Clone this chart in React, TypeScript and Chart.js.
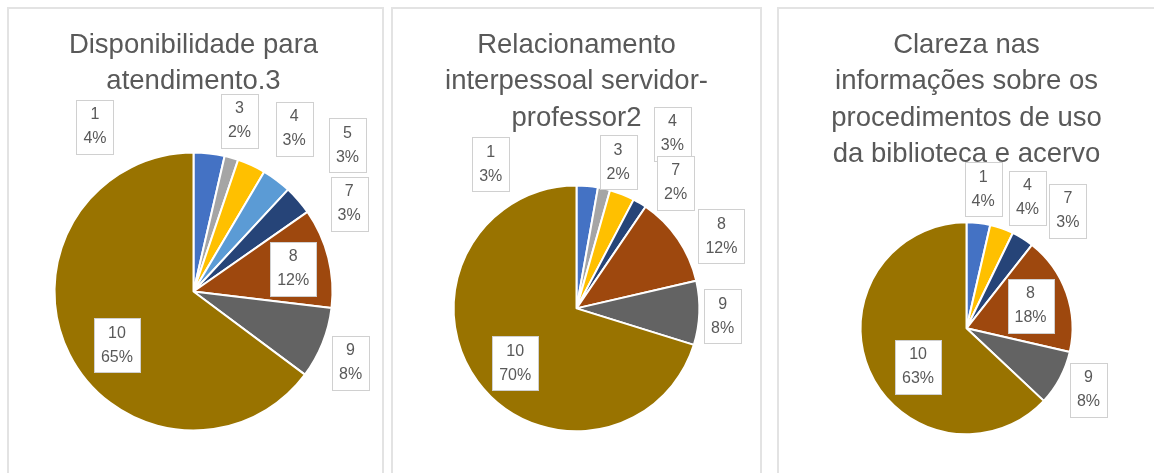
import React, { useEffect, useRef } from "react";
import { Chart, registerables } from "chart.js";

Chart.register(...registerables);

// ---------- data ----------
const TITLE_1 = ["Disponibilidade para", "atendimento.3"];
const CATEGORIES_1 = ["1", "3", "4", "5", "7", "8", "9", "10"];
const VALUES_1 = [3.6, 1.6, 3.3, 3.4, 3.4, 11.6, 8.3, 64.8];

const TITLE_2 = ["Relacionamento", "interpessoal servidor-", "professor2"];
const CATEGORIES_2 = ["1", "3", "4", "7", "8", "9", "10"];
const VALUES_2 = [2.8, 1.6, 3.3, 1.8, 11.9, 8.4, 70.2];

const TITLE_3 = [
  "Clareza nas",
  "informações sobre os",
  "procedimentos de uso",
  "da biblioteca e acervo",
];
const CATEGORIES_3 = ["1", "4", "7", "8", "9", "10"];
const VALUES_3 = [3.6, 3.6, 3.4, 18.0, 8.4, 63.0];

// ---------- styles ----------
const CATEGORY_COLORS: Record<string, string> = {
  "1": "#4472C4",
  "2": "#ED7D31",
  "3": "#A5A5A5",
  "4": "#FFC000",
  "5": "#5B9BD5",
  "6": "#70AD47",
  "7": "#264478",
  "8": "#9E480E",
  "9": "#636363",
  "10": "#997300",
};

// label box centres relative to the pie centre, in units of the radius
const LABEL_POS_1 = [
  [-0.709, -1.183],
  [0.331, -1.23],
  [0.724, -1.17],
  [1.108, -1.053],
  [1.12, -0.633],
  [0.717, -0.165],
  [1.13, 0.515],
  [-0.551, 0.386],
];
const LABEL_POS_2 = [
  [-0.698, -1.171],
  [0.338, -1.189],
  [0.78, -1.419],
  [0.807, -1.02],
  [1.179, -0.586],
  [1.189, 0.063],
  [-0.499, 0.447],
];
const LABEL_POS_3 = [
  [0.157, -1.312],
  [0.575, -1.231],
  [0.956, -1.108],
  [0.604, -0.215],
  [1.151, 0.579],
  [-0.457, 0.362],
];

const FONT = "'Liberation Sans', Arial, sans-serif";
const TEXT_COLOR = "#595959";

const boxLabels = {
  id: "boxLabels",
  afterDatasetsDraw(chart: any, _args: any, opts: any) {
    const ctx = chart.ctx as CanvasRenderingContext2D;
    const meta = chart.getDatasetMeta(0);
    const data = chart.data.datasets[0].data as number[];
    const total = data.reduce((a, b) => a + b, 0);
    const labels = chart.data.labels as string[];
    const positions = opts.positions as number[][];
    ctx.save();
    ctx.font = `16px ${FONT}`;
    ctx.textAlign = "center";
    ctx.textBaseline = "middle";
    meta.data.forEach((arc: any, i: number) => {
      const { x, y, outerRadius } = arc.getProps(["x", "y", "outerRadius"], true);
      const p = positions[i];
      if (!p) return;
      const cx = x + p[0] * outerRadius;
      const cy = y + p[1] * outerRadius;
      const l1 = labels[i];
      const l2 = Math.round((data[i] / total) * 100) + "%";
      const w = Math.round(Math.max(ctx.measureText(l1).width, ctx.measureText(l2).width) + 14);
      const h = 54;
      const bx = Math.round(cx - w / 2) + 0.5;
      const by = Math.round(cy - h / 2) + 0.5;
      ctx.fillStyle = "#ffffff";
      ctx.fillRect(bx, by, w, h);
      ctx.strokeStyle = "#d0d0d0";
      ctx.lineWidth = 1;
      ctx.strokeRect(bx, by, w, h);
      ctx.fillStyle = TEXT_COLOR;
      ctx.fillText(l1, cx, cy - 12);
      ctx.fillText(l2, cx, cy + 12);
    });
    ctx.restore();
  },
};

type PanelProps = {
  left: number;
  width: number;
  title: string[];
  categories: string[];
  values: number[];
  labelPos: number[][];
  titleBottom: number;
  pad: { left: number; right: number; bottom: number };
};

const TOP = 7;
const CANVAS_H = 466;

function PiePanel(props: PanelProps) {
  const ref = useRef<HTMLCanvasElement | null>(null);
  useEffect(() => {
    if (!ref.current) return;
    const chart = new Chart(ref.current, {
      type: "pie",
      data: {
        labels: props.categories,
        datasets: [
          {
            data: props.values,
            backgroundColor: props.categories.map((c) => CATEGORY_COLORS[c]),
            borderColor: "#ffffff",
            borderWidth: 2,
            hoverBorderWidth: 2,
          },
        ],
      },
      options: {
        animation: false,
        responsive: false,
        events: [],
        layout: {
          padding: { left: props.pad.left, right: props.pad.right, top: 0, bottom: props.pad.bottom },
        },
        plugins: {
          legend: { display: false },
          tooltip: { enabled: false },
          title: {
            display: true,
            text: props.title,
            color: TEXT_COLOR,
            font: { family: FONT, size: 27.5, weight: "normal", lineHeight: 36.5 / 27.5 },
            padding: { top: 20, bottom: props.titleBottom },
          },
          boxLabels: { positions: props.labelPos },
        } as any,
      },
      plugins: [boxLabels],
    } as any);
    return () => chart.destroy();
  }, []);
  return (
    <>
      <div
        style={{
          position: "absolute",
          left: props.left,
          top: TOP,
          width: props.width,
          height: 480,
          border: "2px solid #e3e3e3",
          boxSizing: "border-box",
        }}
      />
      <canvas
        ref={ref}
        width={props.width}
        height={CANVAS_H}
        style={{ position: "absolute", left: props.left, top: TOP, width: props.width, height: CANVAS_H }}
      />
    </>
  );
}

export default function App() {
  return (
    <div
      style={{
        position: "fixed",
        left: 0,
        top: 0,
        width: 1154,
        height: 473,
        overflow: "hidden",
        background: "#ffffff",
      }}
    >
      <PiePanel
        left={7}
        width={377}
        title={TITLE_1}
        categories={CATEGORIES_1}
        values={VALUES_1}
        labelPos={LABEL_POS_1}
        titleBottom={51.5}
        pad={{ left: 0, right: 4, bottom: 41.5 }}
      />
      <PiePanel
        left={391}
        width={371}
        title={TITLE_2}
        categories={CATEGORIES_2}
        values={VALUES_2}
        labelPos={LABEL_POS_2}
        titleBottom={48}
        pad={{ left: 1, right: 1, bottom: 40.7 }}
      />
      <PiePanel
        left={777}
        width={384}
        title={TITLE_3}
        categories={CATEGORIES_3}
        values={VALUES_3}
        labelPos={LABEL_POS_3}
        titleBottom={48.3}
        pad={{ left: 2, right: 7, bottom: 37.7 }}
      />
    </div>
  );
}
